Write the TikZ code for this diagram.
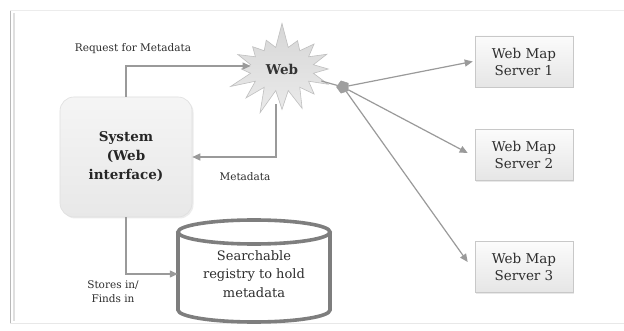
\documentclass[tikz,border=0pt]{standalone}
\usepackage{fontspec}
\setmainfont{DejaVu Serif}
\usetikzlibrary{shapes.symbols,shapes.geometric,arrows.meta,calc,shadows}

\definecolor{linegray}{HTML}{9A9A9A}
\definecolor{framegray}{HTML}{C8C8C8}
\definecolor{cylgray}{HTML}{7E7E7E}
\definecolor{textgray}{HTML}{2E2E2E}

\tikzset{
  conn/.style={draw=linegray, line width=1.2pt,
    -{Triangle[width=7pt,length=8pt]}},
  plainconn/.style={draw=linegray, line width=1.2pt},
  serverbox/.style={rectangle, draw=framegray, line width=0.6pt,
    top color=gray!3, bottom color=gray!20,
    minimum width=98pt, minimum height=51pt, align=center,
    font=\fontsize{13.5}{17}\selectfont, text=textgray,
    drop shadow={opacity=0.18, shadow xshift=1.2pt, shadow yshift=-1.2pt}},
  sysbox/.style={rectangle, rounded corners=14pt, draw=gray!25, line width=0.6pt,
    top color=gray!8, bottom color=gray!18,
    minimum width=132pt, minimum height=120pt, align=center,
    font=\bfseries\fontsize{13.5}{19}\selectfont, text=black!85,
    drop shadow={opacity=0.15, shadow xshift=1.5pt, shadow yshift=-1.5pt}},
  webburst/.style={starburst, starburst points=16, starburst point height=26pt,
    random starburst=7, draw=gray!50, line width=0.6pt, top color=gray!32, bottom color=gray!16,
    minimum width=116pt, minimum height=96pt, inner sep=0pt,
    font=\bfseries\fontsize{13.5}{16}\selectfont, text=black!80},
  lbl/.style={font=\fontsize{10.5}{14}\selectfont, text=textgray, align=center},
  regtext/.style={align=center, minimum width=152pt, minimum height=76pt,
    font=\fontsize{13}{18.5}\selectfont, text=textgray},
  cyl/.style={draw=cylgray, line width=3.6pt},
  hubmark/.style={regular polygon, regular polygon sides=5, shape border rotate=90,
    fill=gray!75, draw=gray!80, minimum size=13pt, inner sep=0pt}
}

\begin{document}
\begin{tikzpicture}[x=1pt,y=1pt]
  % canvas and outer frame
  \fill[white] (0,0) rectangle (624,-331);
  \useasboundingbox (0,0) rectangle (624,-331);
  \draw[gray!15, line width=1pt] (10,-11) -- (624,-11);
  \draw[gray!25, line width=2.5pt] (14,-13) -- (14,-321);
  \draw[gray!55, line width=1pt] (10,-11) -- (10,-323);
  \draw[gray!18, line width=1pt] (10,-323) -- (624,-323);

  % main nodes
  \node[sysbox] (sys) at (126,-157) {System\\(Web\\interface)};
  \node[webburst] (web) at (282,-69) {Web};
  \node[hubmark] (hub) at (343,-87) {};
  \node[serverbox] (s1) at (524,-61.5) {Web Map\\Server 1};
  \node[serverbox] (s2) at (524,-155) {Web Map\\Server 2};
  \node[serverbox] (s3) at (524,-267) {Web Map\\Server 3};

  % registry cylinder
  \node[regtext] (reg) at (254,-274) {};
  \fill[white] (178,-232) -- (178,-310)
     arc[start angle=180, end angle=360, x radius=76pt, y radius=12pt]
     -- (330,-232) -- cycle;
  \draw[cyl] (178,-232) -- (178,-310)
     arc[start angle=180, end angle=360, x radius=76pt, y radius=12pt]
     -- (330,-232);
  \draw[cyl] (254,-232) ellipse[x radius=76pt, y radius=12pt];
  \node[regtext] (regname) at (reg) {Searchable\\registry to hold\\metadata};

  % connectors
  \draw[conn] (sys.north) |- ($(web.west)+(10,3)$);
  \draw[conn] ($(web.south)+(-6,6)$) |- (sys.east);
  \draw[conn] (sys.south) |- (reg.west);
  \draw[plainconn] ($(web.east)+(-8,-12)$) -- (hub);
  \draw[conn] (hub) -- ($(s1.west)+(-2,0)$);
  \draw[conn] (hub) -- ($(s2.west)+(-7,2)$);
  \draw[conn] (hub) -- ($(s3.west)+(-7,5)$);

  % labels
  \node[lbl] (lreq) at (133,-49) {Request for Metadata};
  \node[lbl] (lmeta) at (245,-177) {Metadata};
  \node[lbl] (lstore) at (113,-292) {Stores in/\\Finds in};
\end{tikzpicture}
\end{document}
